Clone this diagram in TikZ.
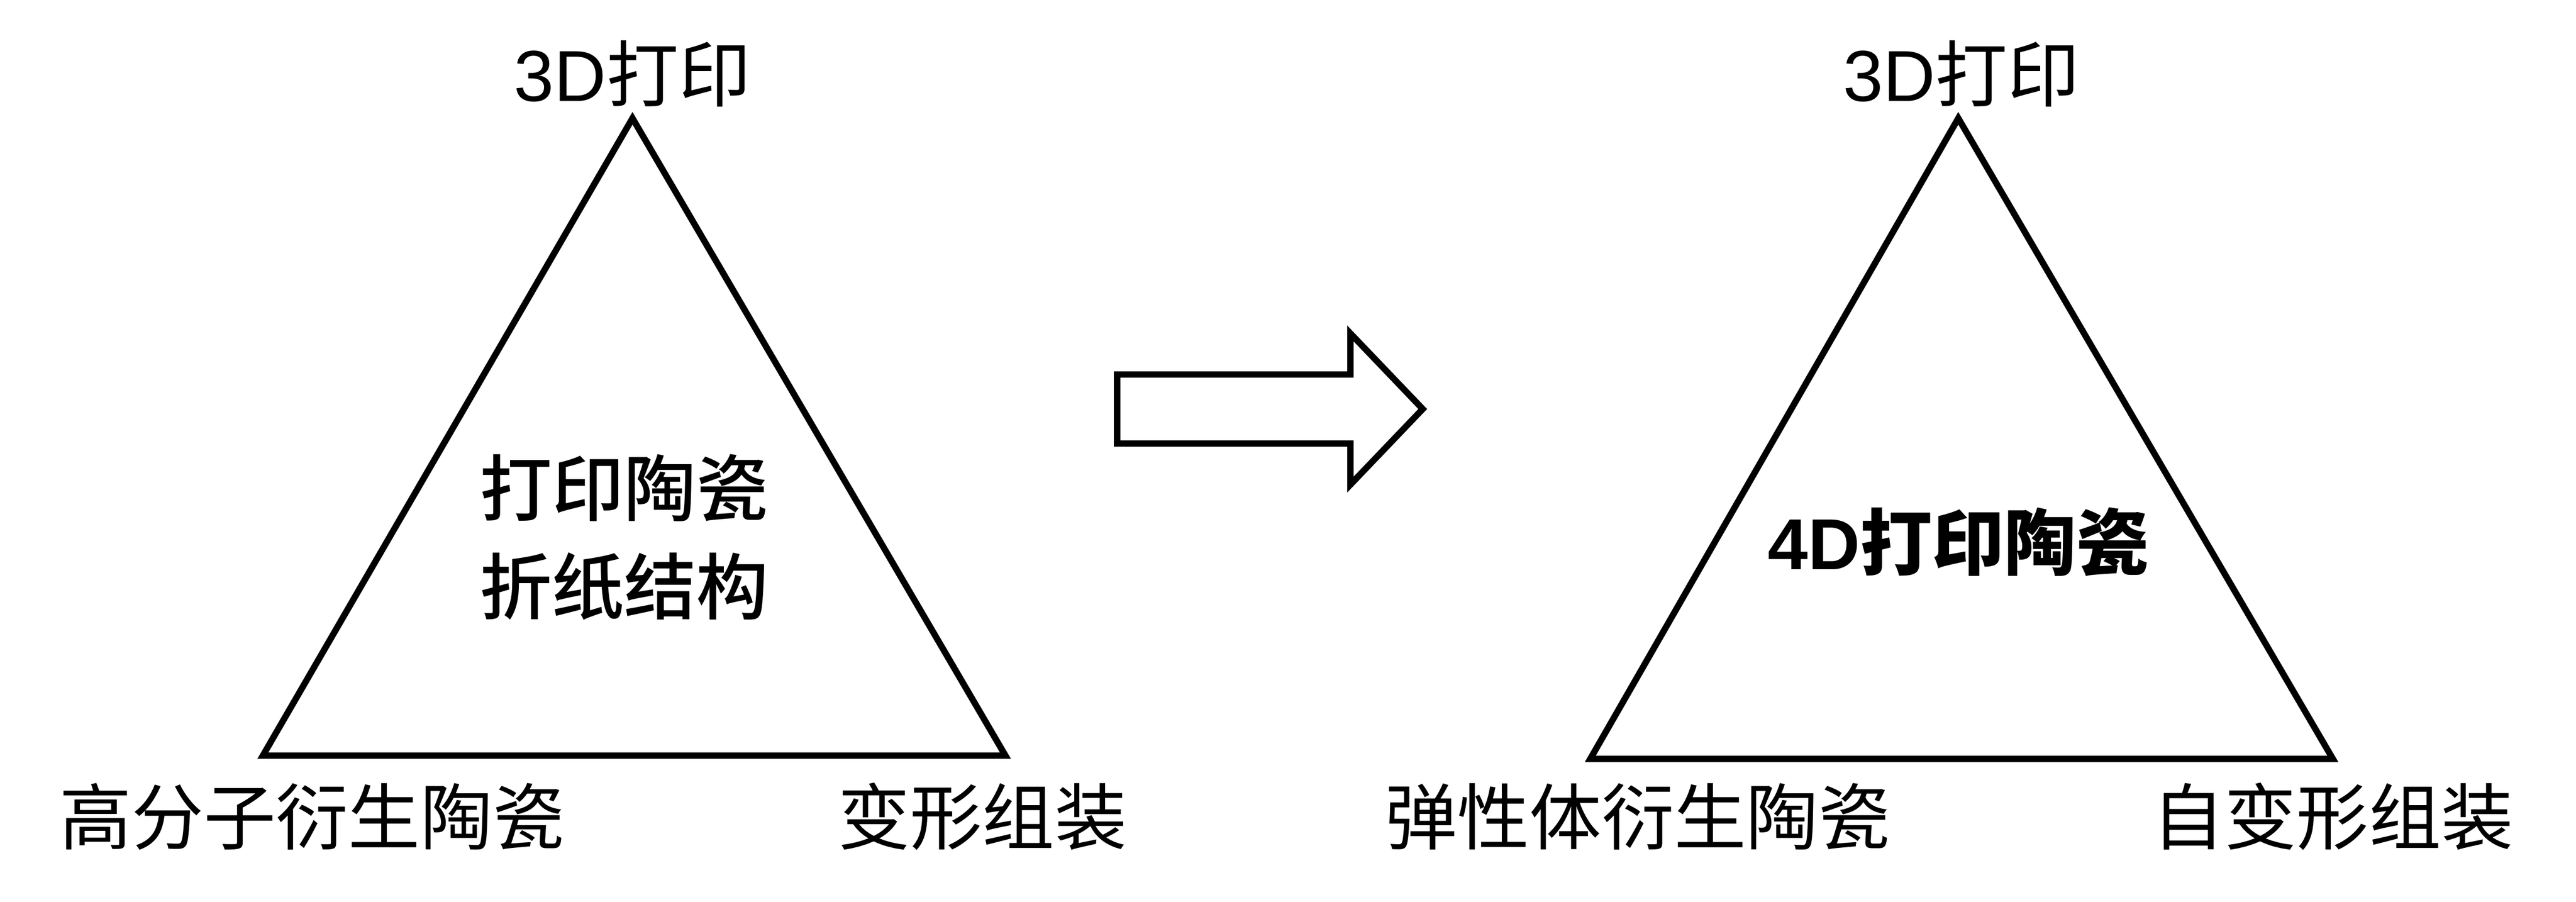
\documentclass[tikz,border=0pt]{standalone}
\usepackage{fontspec}
\setmainfont{Liberation Sans}
\newfontfamily\cjk{Noto Sans CJK SC}
\newfontfamily\cjkmed{Noto Sans CJK SC Medium}
\tikzset{
  lbl/.style={font=\fontsize{12.5pt}{15pt}\selectfont, inner sep=0pt},
  mid/.style={font=\fontsize{12.5pt}{17pt}\selectfont, align=center, inner sep=0pt},
  tri/.style={line width=1.1pt, line join=miter}
}
\begin{document}
\begin{tikzpicture}[x=0.01cm,y=-0.01cm]
\useasboundingbox (0,0) rectangle (1568,549);
% left triangle
\coordinate (la) at (385,72);
\coordinate (lb) at (160,460);
\coordinate (lc) at (612,460);
\draw[tri] (la) -- (lb) -- (lc) -- cycle;
\node[lbl] (lt) at (385,45) {3D{\cjk 打印}};
\node[lbl] (ll) at (190,497) {\cjk 高分子衍生陶瓷};
\node[lbl] (lr) at (598,497) {\cjk 变形组装};
\node[mid] (lm) at (380,327) {\cjkmed 打印陶瓷\\\cjkmed 折纸结构};
% arrow
\draw[tri] (680,228) -- (822,228) -- (822,203) -- (866,249) -- (822,295)
  -- (822,270) -- (680,270) -- cycle;
% right triangle
\coordinate (ra) at (1192,72);
\coordinate (rb) at (968,462);
\coordinate (rc) at (1420,462);
\draw[tri] (ra) -- (rb) -- (rc) -- cycle;
\node[lbl] (rt) at (1194,45) {3D{\cjk 打印}};
\node[lbl] (rl) at (997,497) {\cjk 弹性体衍生陶瓷};
\node[lbl] (rr) at (1420,497) {\cjk 自变形组装};
\node[mid] (rm) at (1192,330) {\bfseries 4D{\cjkmed 打印陶瓷}};
\end{tikzpicture}
\end{document}
